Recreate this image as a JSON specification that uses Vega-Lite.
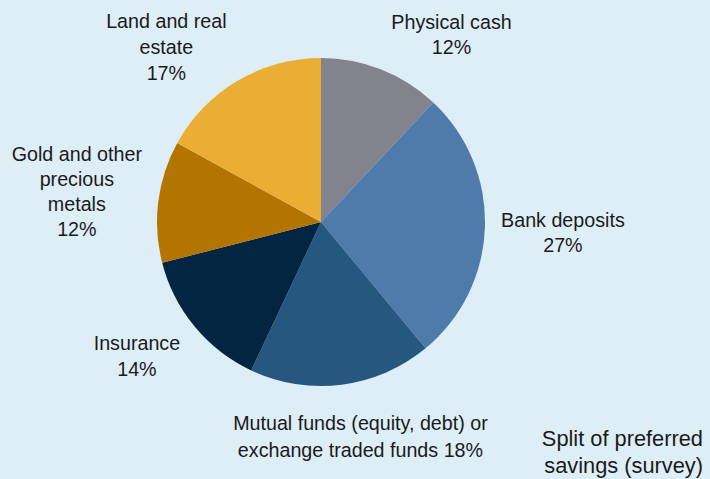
{
  "$schema": "https://vega.github.io/schema/vega-lite/v6.json",
  "autosize": "none",
  "width": 642,
  "height": 444,
  "padding": {"left": 0, "top": 0, "right": 68, "bottom": 35},
  "background": "#DEEEF7",
  "config": {"view": {"stroke": null}, "font": "Liberation Sans"},
  "title": {
    "text": ["Split of preferred", "savings (survey)"],
    "orient": "bottom",
    "anchor": "end",
    "align": "right",
    "fontSize": 21.8,
    "fontWeight": "normal",
    "font": "Liberation Sans",
    "color": "#1a1a1a",
    "lineHeight": 27,
    "dx": 61,
    "dy": -39,
    "offset": -16
  },
  "data": {
    "values": [
      {"category": "Physical cash", "share": 12, "rank": 1, "label": "Physical cash\n12%"},
      {"category": "Bank deposits", "share": 27, "rank": 2, "label": "Bank deposits\n27%"},
      {"category": "Mutual funds", "share": 18, "rank": 3, "label": "Mutual funds (equity, debt) or\nexchange traded funds 18%"},
      {"category": "Insurance", "share": 14, "rank": 4, "label": "Insurance\n14%"},
      {"category": "Gold and other precious metals", "share": 12, "rank": 5, "label": "Gold and other\nprecious\nmetals\n12%"},
      {"category": "Land and real estate", "share": 17, "rank": 6, "label": "Land and real\nestate\n17%"}
    ]
  },
  "encoding": {
    "theta": {"field": "share", "type": "quantitative", "stack": true},
    "order": {"field": "rank", "type": "quantitative"}
  },
  "layer": [
    {
      "mark": {"type": "arc", "radius": 164},
      "encoding": {
        "color": {
          "field": "category",
          "type": "nominal",
          "legend": null,
          "scale": {
            "domain": ["Physical cash", "Bank deposits", "Mutual funds", "Insurance", "Gold and other precious metals", "Land and real estate"],
            "range": ["#83838D", "#4E7BAA", "#26577F", "#022542", "#B37400", "#EAAE34"]
          }
        }
      }
    },
    {
      "mark": {"type": "text", "radius": 235, "dx": 44, "dy": 19.5, "fontSize": 19.7, "lineHeight": 25, "lineBreak": "\n", "align": "center", "baseline": "middle", "color": "#1a1a1a"},
      "encoding": {"text": {"condition": {"test": "datum.category === 'Physical cash'", "field": "label"}, "value": ""}}
    },
    {
      "mark": {"type": "text", "radius": 235, "dx": 7, "dy": -8.5, "fontSize": 19.7, "lineHeight": 25, "lineBreak": "\n", "align": "center", "baseline": "middle", "color": "#1a1a1a"},
      "encoding": {"text": {"condition": {"test": "datum.category === 'Bank deposits'", "field": "label"}, "value": ""}}
    },
    {
      "mark": {"type": "text", "radius": 235, "dx": 10, "dy": -31.5, "fontSize": 19.7, "lineHeight": 27, "lineBreak": "\n", "align": "center", "baseline": "middle", "color": "#1a1a1a"},
      "encoding": {"text": {"condition": {"test": "datum.category === 'Mutual funds'", "field": "label"}, "value": ""}}
    },
    {
      "mark": {"type": "text", "radius": 235, "dx": -3, "dy": -28, "fontSize": 19.7, "lineHeight": 26, "lineBreak": "\n", "align": "center", "baseline": "middle", "color": "#1a1a1a"},
      "encoding": {"text": {"condition": {"test": "datum.category === 'Insurance'", "field": "label"}, "value": ""}}
    },
    {
      "mark": {"type": "text", "radius": 235, "dx": -11, "dy": -37.5, "fontSize": 19.7, "lineHeight": 25, "lineBreak": "\n", "align": "center", "baseline": "middle", "color": "#1a1a1a"},
      "encoding": {"text": {"condition": {"test": "datum.category === 'Gold and other precious metals'", "field": "label"}, "value": ""}}
    },
    {
      "mark": {"type": "text", "radius": 235, "dx": -35, "dy": 2, "fontSize": 19.7, "lineHeight": 26, "lineBreak": "\n", "align": "center", "baseline": "middle", "color": "#1a1a1a"},
      "encoding": {"text": {"condition": {"test": "datum.category === 'Land and real estate'", "field": "label"}, "value": ""}}
    }
  ]
}
